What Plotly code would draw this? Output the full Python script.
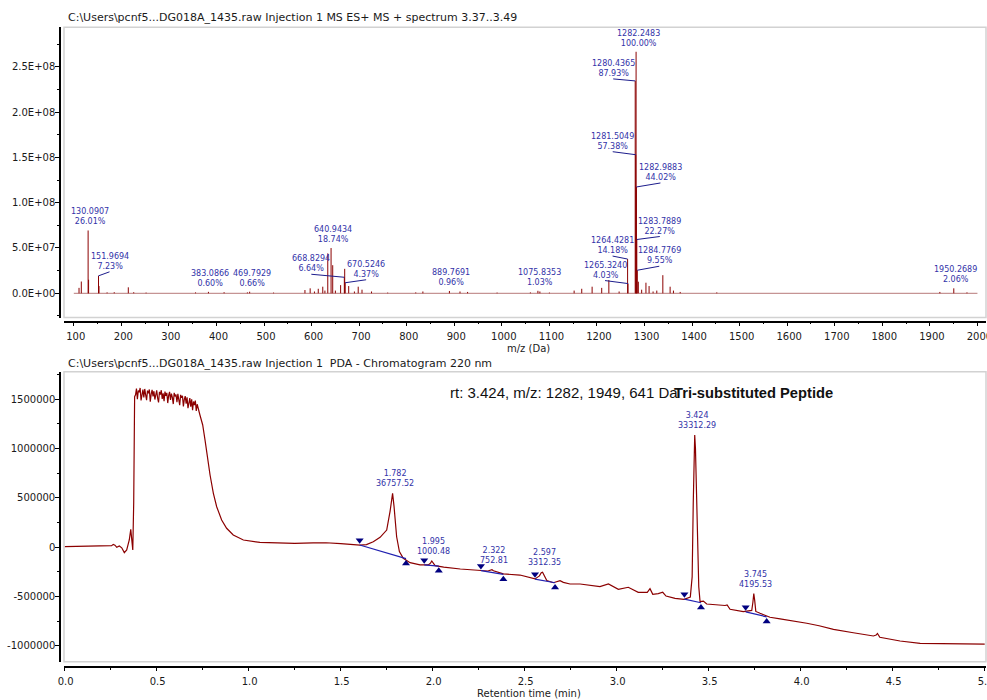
import numpy as np
import plotly.graph_objects as go

W, H = 987, 700

# ---------------- MS spectrum, ES+ (m/z vs intensity) ----------------
BASE_PEAK_INTENSITY = 2.665e8
SCAN_RANGE = [100, 2000]

LABELED_MZ = [130.0907, 151.9694, 383.0866, 469.7929, 640.9434, 668.8294, 670.5246,
              889.7691, 1075.8353, 1264.4281, 1265.3240, 1280.4365, 1281.5049,
              1282.2483, 1282.9883, 1283.7889, 1284.7769, 1950.2689]
LABELED_PCT = [26.01, 7.23, 0.60, 0.66, 18.74, 6.64, 4.37,
               0.96, 1.03, 14.18, 4.03, 87.93, 57.38,
               100.00, 44.02, 22.27, 9.55, 2.06]

OTHER_MZ = [111.0, 115.8, 131.1, 153.0, 170.0, 185.0, 214.6, 226.0, 252.0, 356.0,
            416.0, 465.0, 520.0, 586.0, 597.0, 606.0, 614.0, 623.5, 628.0, 634.0,
            644.4, 650.0, 661.0, 669.6, 678.0, 690.0, 698.0, 706.0, 726.0, 760.0,
            819.0, 834.0, 912.0, 928.0, 990.0, 1060.0, 1080.0, 1100.0, 1152.0, 1168.0,
            1189.8, 1210.0, 1225.0, 1246.6, 1287.0, 1294.0, 1303.0, 1309.6, 1318.0, 1325.8,
            1338.5, 1353.8, 1360.8, 1375.0, 1452.0, 1921.0, 1978.0]
OTHER_INT = [0.06e8, 0.13e8, 0.15e8, 0.08e8, 0.01e8, 0.012e8, 0.066e8, 0.012e8, 0.008e8, 0.01e8,
             0.012e8, 0.01e8, 0.008e8, 0.036e8, 0.055e8, 0.02e8, 0.05e8, 0.073e8, 0.03e8, 0.44e8,
             0.31e8, 0.03e8, 0.09e8, 0.27e8, 0.08e8, 0.02e8, 0.073e8, 0.04e8, 0.02e8, 0.008e8,
             0.01e8, 0.02e8, 0.02e8, 0.015e8, 0.008e8, 0.01e8, 0.02e8, 0.008e8, 0.03e8, 0.05e8,
             0.073e8, 0.06e8, 0.147e8, 0.02e8, 0.128e8, 0.04e8, 0.117e8, 0.08e8, 0.02e8, 0.03e8,
             0.2e8, 0.073e8, 0.03e8, 0.015e8, 0.01e8, 0.015e8, 0.01e8]

MS_YTICKS = [0, 0.5e8, 1.0e8, 1.5e8, 2.0e8, 2.5e8]

# leader-line offsets (pixels from the peak to the label foot)
LEADER_OFFSETS = {
    151.9694: (11, -4), 668.8294: (-33, -3), 670.5246: (21, -3),
    1264.4281: (-15, -3), 1265.3240: (-23, -3), 1280.4365: (-22, -2),
    1281.5049: (-23, -3), 1282.9883: (24, -4), 1283.7889: (23, -3),
    1284.7769: (22, -4),
}

# ---------------- PDA chromatogram, 220 nm ----------------
RT = [0.000, 0.100, 0.200, 0.255, 0.264, 0.273, 0.283, 0.297, 0.310, 0.324,
      0.337, 0.351, 0.359, 0.364, 0.370, 0.375, 0.380,
      0.385, 0.390, 0.395, 0.400, 0.405, 0.410, 0.415, 0.420, 0.425, 0.430,
      0.435, 0.440, 0.445, 0.450, 0.455, 0.460, 0.465, 0.470, 0.475, 0.480,
      0.485, 0.490, 0.495, 0.500, 0.505, 0.510, 0.515, 0.520, 0.525, 0.530,
      0.535, 0.540, 0.545, 0.550, 0.555, 0.560, 0.565, 0.570, 0.575, 0.580,
      0.585, 0.590, 0.595, 0.600, 0.605, 0.610, 0.615, 0.620, 0.625, 0.630,
      0.635, 0.640, 0.645, 0.650, 0.655, 0.660, 0.665, 0.670, 0.675, 0.680,
      0.685, 0.690, 0.695, 0.700, 0.705, 0.710, 0.715, 0.720,
      0.735, 0.750, 0.7625, 0.775, 0.790, 0.808, 0.826, 0.853, 0.880, 0.916,
      0.971, 1.061, 1.150, 1.250, 1.350, 1.420, 1.500, 1.560, 1.605, 1.640,
      1.677, 1.714, 1.750, 1.768, 1.777, 1.782, 1.790, 1.797, 1.804, 1.819,
      1.840, 1.877, 1.931, 1.976, 1.988, 1.995, 2.003, 2.013, 2.060, 2.150,
      2.300, 2.315, 2.322, 2.330, 2.348, 2.384, 2.474, 2.547, 2.556, 2.580,
      2.590, 2.597, 2.608, 2.620, 2.656, 2.692, 2.710, 2.746, 2.801, 2.855,
      2.909, 2.955, 3.009, 3.063, 3.117, 3.166, 3.181, 3.196, 3.226, 3.250,
      3.268, 3.317, 3.366, 3.400, 3.410, 3.416, 3.420, 3.424, 3.428, 3.434,
      3.440, 3.446, 3.453, 3.471, 3.489, 3.545, 3.589, 3.600, 3.616, 3.688,
      3.734, 3.740, 3.745, 3.750, 3.756, 3.779, 3.833, 3.888, 3.960, 4.033,
      4.100, 4.178, 4.286, 4.395, 4.410, 4.417, 4.430, 4.540, 4.649, 4.812,
      5.000]
ABS = [6000, 8000, 12000, 17000, 30000, 22000, 0, 13000, -5000, -54000,
       -27000, 74000, 182000, 107000, -27000, 449000, 1527000,
       1545000, 1608000, 1502000, 1590000, 1571000, 1615000, 1488000, 1560000, 1598000, 1520000,
       1605000, 1545000, 1492000, 1588000, 1560000, 1600000, 1475000, 1552000, 1595000, 1530000,
       1582000, 1498000, 1570000, 1590000, 1512000, 1468000, 1575000, 1548000, 1592000, 1505000,
       1560000, 1480000, 1578000, 1535000, 1566000, 1462000, 1540000, 1575000, 1495000, 1558000,
       1520000, 1452000, 1565000, 1530000, 1548000, 1470000, 1555000, 1500000, 1440000, 1545000,
       1515000, 1535000, 1428000, 1500000, 1532000, 1455000, 1520000, 1410000, 1495000, 1512000,
       1425000, 1500000, 1390000, 1478000, 1440000, 1488000, 1382000, 1450000,
       1341000, 1240000, 1088000, 918000, 733000, 547000, 411000, 277000, 193000, 125000,
       74000, 50000, 45000, 40000, 45000, 46000, 38000, 30000, 23000, 28000,
       57000, 101000, 175000, 361000, 513000, 547000, 412000, 243000, 107000, -44000,
       -112000, -156000, -179000, -179000, -160000, -139000, -165000, -186000, -200000, -220000,
       -240000, -232000, -227000, -238000, -250000, -270000, -281000, -314000, -320000, -290000,
       -258000, -253000, -290000, -336000, -359000, -338000, -355000, -372000, -372000, -389000,
       -399000, -372000, -426000, -405000, -456000, -456000, -419000, -476000, -470000, -456000,
       -494000, -517000, -527000, -505000, -300000, 450000, 950000, 1138000, 1000000, 600000,
       100000, -400000, -551000, -545000, -575000, -585000, -590000, -585000, -628000, -652000,
       -640000, -560000, -470000, -540000, -650000, -669000, -709000, -726000, -744000, -770000,
       -795000, -832000, -866000, -899000, -890000, -873000, -912000, -950000, -973000, -977000,
       -982000]

PEAK_RT = [1.782, 1.995, 2.322, 2.597, 3.424, 3.745]
PEAK_AREA = [36757.52, 1000.48, 752.81, 3312.35, 33312.29, 4195.53]
# integration baselines: start/end retention time and signal
BASE_START_RT = [1.603, 1.954, 2.262, 2.556, 3.368, 3.701]
BASE_START_V = [23000, -179000, -237000, -322000, -525000, -655000]
BASE_END_RT = [1.855, 2.033, 2.384, 2.665, 3.458, 3.815]
BASE_END_V = [-115000, -190000, -275000, -359000, -562000, -705000]

PDA_YTICKS = [-1000000, -500000, 0, 500000, 1000000, 1500000]

# ---------------- styling ----------------
RED = "#8b0000"
NAVY = "#1c1c8c"
LABEL_BLUE = "#3232a8"
FONT = "DejaVu Sans"
MARK_OFF = 48000


def px_x(p):
    return p / W


def px_y(p):
    return 1 - p / H


fig = go.Figure()

# spectrum sticks
all_mz = LABELED_MZ + OTHER_MZ
all_int = [p / 100 * BASE_PEAK_INTENSITY for p in LABELED_PCT] + OTHER_INT
sx, sy = [], []
for mz, inten in sorted(zip(all_mz, all_int)):
    sx += [mz, mz, None]
    sy += [0, inten, None]
fig.add_trace(go.Scatter(x=SCAN_RANGE, y=[0, 0], mode="lines",
                         line=dict(color="#b77a7a", width=1), xaxis="x", yaxis="y",
                         hoverinfo="skip", showlegend=False))
fig.add_trace(go.Scatter(x=sx, y=sy, mode="lines", line=dict(color=RED, width=1),
                         xaxis="x", yaxis="y", hoverinfo="skip", showlegend=False))

# chromatogram
fig.add_trace(go.Scatter(x=RT, y=ABS, mode="lines", line=dict(color=RED, width=1.2),
                         xaxis="x2", yaxis="y2", hoverinfo="skip", showlegend=False))

bx, by = [], []
for s, sv, e, ev in zip(BASE_START_RT, BASE_START_V, BASE_END_RT, BASE_END_V):
    bx += [s, e, None]
    by += [sv, ev, None]
fig.add_trace(go.Scatter(x=bx, y=by, mode="lines", line=dict(color="#2020b0", width=1.2),
                         xaxis="x2", yaxis="y2", hoverinfo="skip", showlegend=False))
fig.add_trace(go.Scatter(x=BASE_START_RT, y=[v + MARK_OFF for v in BASE_START_V],
                         mode="markers", marker=dict(symbol="triangle-down", size=7, color="#000080"),
                         xaxis="x2", yaxis="y2", hoverinfo="skip", showlegend=False))
fig.add_trace(go.Scatter(x=BASE_END_RT, y=[v - MARK_OFF for v in BASE_END_V],
                         mode="markers", marker=dict(symbol="triangle-up", size=7, color="#000080"),
                         xaxis="x2", yaxis="y2", hoverinfo="skip", showlegend=False))

annotations = []
lab_font = dict(family=FONT, size=8, color=LABEL_BLUE)
for mz, pct in zip(LABELED_MZ, LABELED_PCT):
    inten = pct / 100 * BASE_PEAK_INTENSITY
    text = f"{mz:.4f}<br>{pct:.2f}%"
    if mz in LEADER_OFFSETS:
        ax, ay = LEADER_OFFSETS[mz]
        annotations.append(dict(x=mz, y=inten, xref="x", yref="y", text=text, showarrow=True,
                                arrowhead=0, arrowwidth=1, arrowcolor=NAVY, ax=ax, ay=ay,
                                xanchor="center", yanchor="bottom", font=lab_font,
                                borderpad=0))
    else:
        annotations.append(dict(x=mz, y=inten, xref="x", yref="y", text=text, showarrow=False,
                                xanchor="center", yanchor="bottom", xshift=2, yshift=3,
                                font=lab_font, borderpad=0))

for rt, area in zip(PEAK_RT, PEAK_AREA):
    apex = float(np.interp(rt, RT, ABS))
    annotations.append(dict(x=rt, y=apex, xref="x2", yref="y2", text=f"{rt:.3f}<br>{area:.2f}",
                            showarrow=False, xanchor="center", yanchor="bottom", xshift=2,
                            yshift=4, font=lab_font, borderpad=0))

title_font = dict(family=FONT, size=11, color="#1a1a1a")
annotations += [
    dict(x=px_x(66), y=px_y(18), xref="paper", yref="paper", xanchor="left", yanchor="middle",
         showarrow=False, font=title_font,
         text="C:\\Users\\pcnf5...DG018A_1435.raw Injection 1 MS ES+ MS + spectrum 3.37..3.49"),
    dict(x=px_x(66), y=px_y(363), xref="paper", yref="paper", xanchor="left", yanchor="middle",
         showarrow=False, font=title_font,
         text="C:\\Users\\pcnf5...DG018A_1435.raw Injection 1\u00a0 PDA - Chromatogram 220 nm"),
    dict(x=px_x(528), y=px_y(348), xref="paper", yref="paper", xanchor="center", yanchor="middle",
         showarrow=False, font=dict(family=FONT, size=10, color="#1a1a1a"), text="m/z (Da)"),
    dict(x=px_x(529), y=px_y(693), xref="paper", yref="paper", xanchor="center", yanchor="middle",
         showarrow=False, font=dict(family=FONT, size=10, color="#1a1a1a"),
         text="Retention time (min)"),
    dict(x=px_x(448), y=px_y(392), xref="paper", yref="paper", xanchor="left", yanchor="middle",
         showarrow=False, font=dict(family="Liberation Sans", size=15, color="#111"),
         text="rt: 3.424, m/z: 1282, 1949, 641 Da"),
    dict(x=px_x(672), y=px_y(393), xref="paper", yref="paper", xanchor="left", yanchor="middle",
         showarrow=False, font=dict(family="Liberation Sans", size=14.7, color="#111", weight="bold"),
         text="Tri-substituted Peptide"),
]

frame = dict(color="#d2d2d2", width=1.5)
shapes = [
    dict(type="rect", xref="x domain", yref="y domain", x0=0, x1=1, y0=0, y1=1, line=frame),
    dict(type="rect", xref="x2 domain", yref="y2 domain", x0=0, x1=1, y0=0, y1=1, line=frame),
]

tickfont = dict(family=FONT, size=10, color="#1a1a1a")
common = dict(showline=True, linecolor="#000", linewidth=1.5, ticks="outside", ticklen=4,
              tickwidth=1, tickcolor="#000", showgrid=False, zeroline=False, tickfont=tickfont,
              anchor="free", automargin=False, ticklabeloverflow="allow")
xdom = [px_x(64), px_x(986)]

fig.update_layout(
    width=W, height=H, margin=dict(l=0, r=0, t=0, b=0, autoexpand=False),
    paper_bgcolor="white", plot_bgcolor="white", showlegend=False,
    xaxis=dict(common, domain=xdom, range=[79.4, 2018], position=px_y(321.7),
               tickmode="linear", tick0=0, dtick=100, ticklabelstandoff=2, ticklabelshift=2,
               minor=dict(tick0=0, dtick=50, ticklen=2, ticks="outside", tickcolor="#000")),
    yaxis=dict(common, domain=[px_y(317.5), px_y(27.3)], range=[-0.267e8, 2.935e8],
               position=px_x(60), tickmode="array", tickvals=MS_YTICKS,
               ticktext=[f"{v:.1E}" for v in MS_YTICKS], ticklabelstandoff=-2,
               minor=dict(tick0=0, dtick=2.5e7, ticklen=2, ticks="outside", tickcolor="#000")),
    xaxis2=dict(common, domain=xdom, range=[-0.0038, 5.007], position=px_y(666.7),
                tickmode="linear", tick0=0, dtick=0.5, tickformat=".1f", ticklabelstandoff=2,
                ticklabelshift=1,
                minor=dict(tick0=0, dtick=0.25, ticklen=3, ticks="outside", tickcolor="#000")),
    yaxis2=dict(common, domain=[px_y(661.7), px_y(371.7)], range=[-1159500, 1779900],
                position=px_x(60), tickmode="array", tickvals=PDA_YTICKS,
                ticktext=[str(v) for v in PDA_YTICKS], ticklabelstandoff=-2,
                minor=dict(tick0=0, dtick=250000, ticklen=2, ticks="outside", tickcolor="#000")),
    annotations=annotations, shapes=shapes,
)

fig.write_html("out.html")
